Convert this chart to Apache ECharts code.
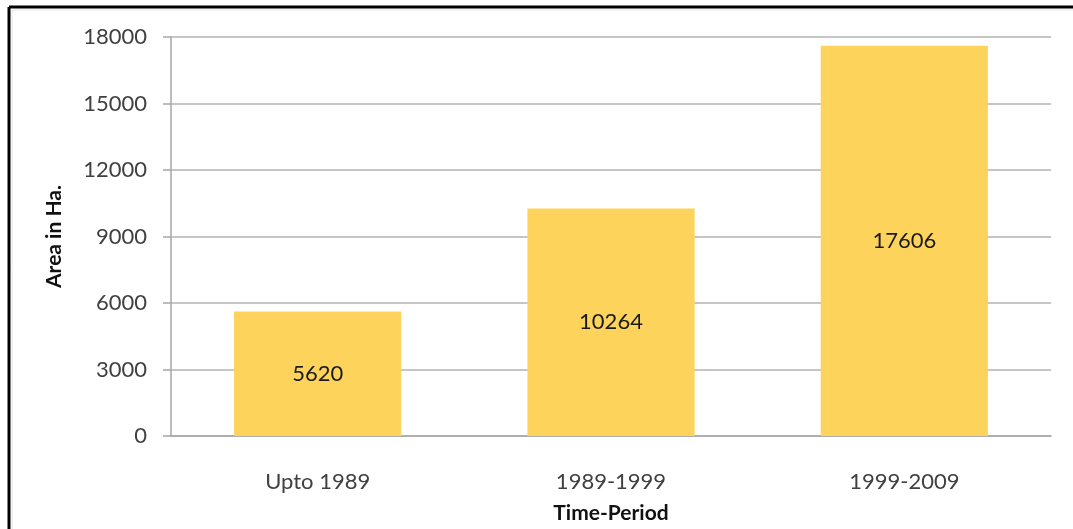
<!DOCTYPE html>
<html>
<head>
<meta charset="utf-8">
<script src="https://cdn.jsdelivr.net/npm/echarts@6/dist/echarts.min.js"></script>
<style>
html,body{margin:0;padding:0;background:#fff;}
#c{width:1073px;height:529px;}
</style>
</head>
<body>
<div id="c"></div>
<script>
var categories = ['Upto 1989', '1989-1999', '1999-2009'];
var areaValues = [5620, 10264, 17606];
var yTicks = [0, 3000, 6000, 9000, 12000, 15000, 18000];

var chart = echarts.init(document.getElementById('c'));
var font = 'Lato, "Open Sans", sans-serif';
chart.setOption({
  animation: false,
  backgroundColor: '#ffffff',
  graphic: [
    { type: 'line', shape: { x1: 9, y1: 7, x2: 9, y2: 529 }, style: { stroke: '#000', lineWidth: 3 } },
    { type: 'line', shape: { x1: 9, y1: 7, x2: 1073, y2: 7 }, style: { stroke: '#000', lineWidth: 3 } },
    { type: 'line', shape: { x1: 12, y1: 10, x2: 12, y2: 529 }, style: { stroke: '#e4e4e4', lineWidth: 1 } },
    { type: 'line', shape: { x1: 12, y1: 10, x2: 1073, y2: 10 }, style: { stroke: '#e4e4e4', lineWidth: 1 } }
  ],
  grid: { left: 171, right: 22, top: 37, bottom: 93 },
  xAxis: {
    type: 'category',
    data: categories,
    name: 'Time-Period',
    nameLocation: 'middle',
    nameGap: 67,
    nameTextStyle: { fontFamily: font, fontWeight: 'bold', fontSize: 21, color: '#111' },
    axisLine: { lineStyle: { color: '#a6a6a6', width: 1.5 } },
    axisTick: { show: false },
    axisLabel: { fontFamily: font, fontSize: 22, color: '#404040', margin: 35 }
  },
  yAxis: {
    type: 'value',
    min: yTicks[0],
    max: yTicks[yTicks.length - 1],
    interval: yTicks[1] - yTicks[0],
    name: 'Area in Ha.',
    nameLocation: 'middle',
    nameGap: 106,
    nameTextStyle: { fontFamily: font, fontWeight: 'bold', fontSize: 21, color: '#111' },
    axisLine: { show: true, lineStyle: { color: '#a6a6a6', width: 1.5 } },
    axisTick: { show: true, length: 8, lineStyle: { color: '#a6a6a6', width: 1.5 } },
    axisLabel: { fontFamily: font, fontSize: 22, color: '#404040', margin: 24, formatter: function (v) { return String(v); } },
    splitLine: { lineStyle: { color: '#b3b3b3', width: 1.5 } }
  },
  series: [{
    type: 'bar',
    data: areaValues,
    barWidth: '57%',
    itemStyle: { color: '#FDD35C' },
    label: { show: true, position: 'inside', fontFamily: font, fontSize: 22, color: '#1a1a1a' }
  }]
});
</script>
</body>
</html>
